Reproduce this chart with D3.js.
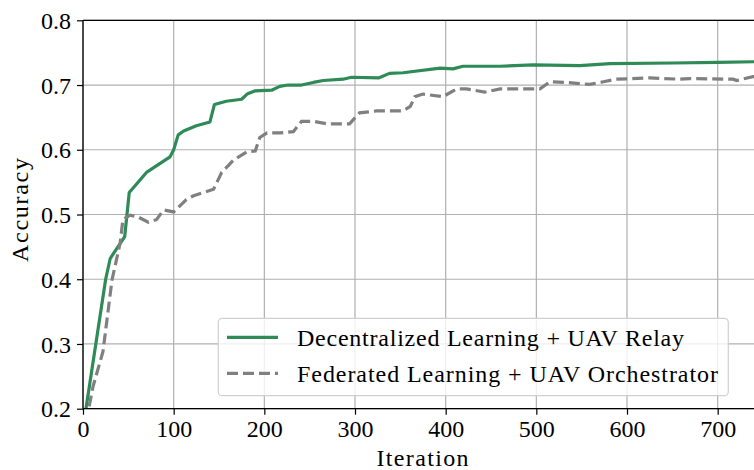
<!DOCTYPE html>
<html>
<head>
<meta charset="utf-8">
<script src="https://cdn.jsdelivr.net/npm/d3@7"></script>
<style>
  html, body { margin: 0; padding: 0; background: #fff; }
  svg { display: block; }
  text { font-family: "Liberation Serif", "DejaVu Serif", serif; fill: #000; }
</style>
</head>
<body>
<svg id="chart" width="754" height="470"></svg>
<script>
// ---- data ----
const seriesNames = ["Decentralized Learning + UAV Relay", "Federated Learning + UAV Orchestrator"];
const iterGreen = [0, 25, 30, 46, 51, 70, 96, 100, 105, 111, 125, 140, 145, 158, 175, 181, 190, 208, 217, 226, 241, 254, 265, 287, 296, 326, 338, 353, 394, 408, 419, 460, 497, 548, 581, 651, 700, 740, 750];
const accGreen  = [0.17, 0.40, 0.432, 0.466, 0.534, 0.565, 0.589, 0.600, 0.623, 0.629, 0.637, 0.643, 0.670, 0.675, 0.678, 0.686, 0.691, 0.692, 0.698, 0.700, 0.700, 0.704, 0.707, 0.709, 0.712, 0.711, 0.718, 0.719, 0.726, 0.725, 0.729, 0.729, 0.731, 0.730, 0.733, 0.734, 0.735, 0.736, 0.736];
const iterGrey = [0, 11, 22, 32, 41, 44, 52, 61, 72, 81, 89, 100, 114, 122, 144, 153, 166, 181, 190, 195, 203, 217, 232, 241, 254, 269, 294, 305, 324, 353, 361, 366, 375, 397, 412, 423, 443, 460, 504, 515, 533, 559, 574, 588, 625, 658, 669, 717, 721, 739, 750];
const accGrey  = [0.155, 0.234, 0.288, 0.399, 0.456, 0.492, 0.499, 0.496, 0.488, 0.492, 0.507, 0.504, 0.523, 0.529, 0.539, 0.565, 0.584, 0.597, 0.598, 0.619, 0.626, 0.626, 0.628, 0.644, 0.644, 0.640, 0.640, 0.657, 0.660, 0.660, 0.667, 0.682, 0.686, 0.682, 0.694, 0.694, 0.689, 0.694, 0.694, 0.705, 0.704, 0.701, 0.705, 0.709, 0.711, 0.709, 0.710, 0.709, 0.707, 0.713, 0.713];
const xTicks = [0, 100, 200, 300, 400, 500, 600, 700];
const yTicks = [0.2, 0.3, 0.4, 0.5, 0.6, 0.7, 0.8];
const xLabel = "Iteration";
const yLabel = "Accuracy";

// ---- layout ----
const svg = d3.select("#chart");
const pL = 83, pT = 20.3, pB = 408.7, pR = 763;
const x = d3.scaleLinear().domain([0, 750]).range([pL, pR]);
const y = d3.scaleLinear().domain([0.2, 0.8]).range([pB, pT]);
const FS = 24;

svg.append("defs").append("clipPath").attr("id", "clip")
  .append("rect").attr("x", pL).attr("y", pT).attr("width", pR - pL).attr("height", pB - pT);

// grid
const grid = svg.append("g");
grid.selectAll(".gx").data(xTicks).join("line")
  .attr("x1", d => x(d)).attr("x2", d => x(d)).attr("y1", pT).attr("y2", pB)
  .attr("stroke", "#b0b0b0").attr("stroke-width", 1.2);
grid.selectAll(".gy").data(yTicks).join("line")
  .attr("x1", pL).attr("x2", pR).attr("y1", d => y(d)).attr("y2", d => y(d))
  .attr("stroke", "#b0b0b0").attr("stroke-width", 1.2);

// lines
const line = d3.line().x(d => x(d[0])).y(d => y(d[1]));
const plot = svg.append("g").attr("clip-path", "url(#clip)");
plot.append("path").datum(d3.zip(iterGreen, accGreen)).attr("d", line)
  .attr("fill", "none").attr("stroke", "#2e8b57").attr("stroke-width", 3.2).attr("stroke-linejoin", "round");
plot.append("path").datum(d3.zip(iterGrey, accGrey)).attr("d", line)
  .attr("fill", "none").attr("stroke", "#808080").attr("stroke-width", 3.2)
  .attr("stroke-dasharray", "11,5");

// axes
const xAxis = svg.append("g").attr("transform", `translate(0,${pB})`)
  .call(d3.axisBottom(x).tickValues(xTicks).tickFormat(d3.format("d")).tickSizeOuter(0).tickSize(6).tickPadding(5));
const yAxis = svg.append("g").attr("transform", `translate(${pL},0)`)
  .call(d3.axisLeft(y).tickValues(yTicks).tickFormat(d3.format(".1f")).tickSizeOuter(0).tickSize(6).tickPadding(6));
[xAxis, yAxis].forEach(a => {
  a.select(".domain").remove();
  a.selectAll(".tick line").attr("stroke", "#000").attr("stroke-width", 1.2);
  a.selectAll(".tick text").attr("font-family", "Liberation Serif").attr("font-size", FS).attr("fill", "#000");
});
yAxis.selectAll(".tick text").attr("dy", "0.34em");

// spines
svg.append("line").attr("x1", pL).attr("x2", pL).attr("y1", pT).attr("y2", pB).attr("stroke", "#000").attr("stroke-width", 1.3);
svg.append("line").attr("x1", pL).attr("x2", pR).attr("y1", pB).attr("y2", pB).attr("stroke", "#000").attr("stroke-width", 1.3);
svg.append("line").attr("x1", pL).attr("x2", pR).attr("y1", pT).attr("y2", pT).attr("stroke", "#000").attr("stroke-width", 1.3);

// axis labels
svg.append("text").attr("x", 422.5).attr("y", 466).attr("text-anchor", "middle").attr("font-size", FS)
  .attr("textLength", 92).text(xLabel);
svg.append("text").attr("transform", `translate(28,210) rotate(-90)`)
  .attr("text-anchor", "middle").attr("font-size", FS).attr("textLength", 104).text(yLabel);

// legend
const lg = svg.append("g");
lg.append("rect").attr("x", 218.3).attr("y", 318.3).attr("width", 510).attr("height", 77.4).attr("rx", 4)
  .attr("fill", "#fff").attr("fill-opacity", 0.8).attr("stroke", "#d0d0d0").attr("stroke-width", 1.2);
const legY = [337.3, 373.3];
const legLen = [387, 421];
const legStyles = [{c: "#2e8b57", dash: null}, {c: "#808080", dash: "11,5"}];
seriesNames.forEach((n, i) => {
  lg.append("line").attr("x1", 227).attr("x2", 278).attr("y1", legY[i]).attr("y2", legY[i])
    .attr("stroke", legStyles[i].c).attr("stroke-width", 3.2).attr("stroke-dasharray", legStyles[i].dash);
  lg.append("text").attr("x", 297).attr("y", legY[i]).attr("dy", "0.35em").attr("font-size", FS)
    .attr("textLength", legLen[i]).text(n);
});
</script>
</body>
</html>
